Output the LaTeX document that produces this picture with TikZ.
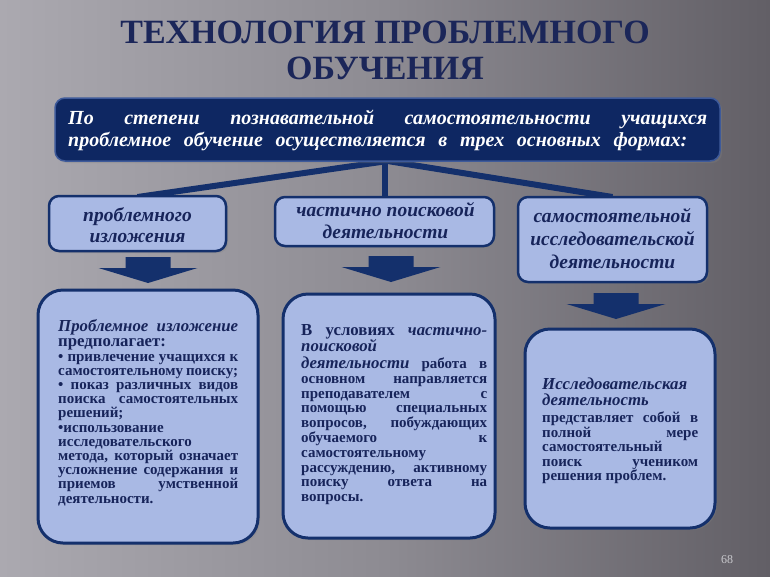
\documentclass[tikz,border=0pt]{standalone}
\usepackage{fontspec}
\setmainfont{Liberation Serif}
\usetikzlibrary{shadows}
\definecolor{titlecol}{HTML}{1B2659}
\definecolor{topfill}{HTML}{0E2762}
\definecolor{topline}{HTML}{3E5A9A}
\definecolor{boxfill}{HTML}{A9B9E4}
\definecolor{navy}{HTML}{14306C}
\definecolor{txt}{HTML}{17245A}
\definecolor{bgl}{HTML}{ABA9B0}
\definecolor{bgm}{HTML}{8D8B92}
\definecolor{bgr}{HTML}{625F66}
\definecolor{pagecol}{HTML}{C8C8CC}
\newcommand\jline[2]{\makebox[#1][s]{#2}}
\newcommand\fsbig{\fontsize{16.8}{16}\selectfont}
\begin{document}
\begin{tikzpicture}[x=1pt,y=-1pt,
  titlefont/.style={font=\fontsize{34}{40}\selectfont\bfseries, inner sep=0},
  topbox/.style={draw=topline, line width=1.5pt, fill=topfill, rounded corners=10pt, inner sep=0, drop shadow={shadow xshift=2pt, shadow yshift=-2pt, opacity=0.3}},
  smallbox/.style={draw=navy, line width=2.5pt, fill=boxfill, rounded corners=10pt, inner sep=0, drop shadow={shadow xshift=2pt, shadow yshift=-2pt, opacity=0.3}},
  bigbox/.style={draw=navy, line width=3pt, fill=boxfill, rounded corners=25pt, inner sep=0, drop shadow={shadow xshift=2pt, shadow yshift=-2pt, opacity=0.3}},
  smalltext/.style={anchor=base, inner sep=0, text=txt, font=\fontsize{19.5}{21}\selectfont\bfseries\itshape},
  bodytext/.style={anchor=base west, inner sep=0, text=txt, font=\fontsize{15}{15}\selectfont\bfseries},
  conn/.style={draw=navy, line width=6pt},
  downarrow/.pic={\fill[navy] (-22.5,0) -- (22.5,0) -- (22.5,11) -- (49.5,11) -- (0,26) -- (-49.5,11) -- (-22.5,11) -- cycle;}
]
\useasboundingbox (0,0) rectangle (770,576);
\shade[left color=bgl, right color=bgr, middle color=bgm] (0,0) rectangle (770,576);

% title
\node[titlefont, text=titlecol, anchor=base] (t1) at (385,43) {ТЕХНОЛОГИЯ ПРОБЛЕМНОГО};
\node[titlefont, text=titlecol, anchor=base] (t2) at (385,79) {ОБУЧЕНИЯ};

% connectors (drawn before boxes)
\coordinate (hub) at (387.5,161);
\coordinate (c1) at (137.5,197);
\coordinate (c2) at (385,197);
\coordinate (c3) at (612.5,197);
\draw[conn] (hub) -- (c1);
\draw[conn] (hub) -- (c3);
\draw[conn] (385,161) -- (c2);

% top box
\node[topbox, minimum width=665, minimum height=63] (top) at (387.5,129.5) {};
\node[anchor=base west, inner sep=0, text=white, font=\fontsize{20}{22}\selectfont\bfseries\itshape] (toptext) at (68,124)
  {\parbox[t]{639pt}{\lineskiplimit=-100pt\jline{639pt}{По степени познавательной самостоятельности учащихся}\\
   \jline{619pt}{проблемное обучение осуществляется в трех основных формах:}}};

% small boxes
\node[smallbox, minimum width=177, minimum height=55] (b1) at (137.5,223.5) {};
\node[smallbox, minimum width=219, minimum height=49] (b2) at (384.5,221.5) {};
\node[smallbox, minimum width=189, minimum height=85] (b3) at (612.5,239.5) {};
\node[smalltext] (b1t) at (137.5,221) {\parbox[t]{170pt}{\centering\lineskiplimit=-100pt проблемного\\изложения}};
\node[smalltext] (b2t) at (385.5,216) {\parbox[t]{210pt}{\centering\fontsize{19.5}{22}\selectfont\lineskiplimit=-100pt частично поисковой\\деятельности}};
\node[smalltext] (b3t) at (612.5,222) {\parbox[t]{185pt}{\centering\fontsize{19.5}{23}\selectfont\lineskiplimit=-100pt самостоятельной\\исследовательской\\деятельности}};

% block arrows
\pic at (148,257) {downarrow};
\pic at (391,256) {downarrow};
\pic at (616,293) {downarrow};

% big boxes
\node[bigbox, minimum width=220, minimum height=253] (b4) at (148,416.5) {};
\node[bigbox, minimum width=212, minimum height=244] (b5) at (389,416) {};
\node[bigbox, minimum width=190, minimum height=199] (b6) at (620,428.5) {};

\node[bodytext] (b4t) at (58,331) {\parbox[t]{180pt}{\fontsize{15}{14.2}\selectfont\lineskiplimit=-100pt
\jline{180pt}{\fsbig\itshape Проблемное изложение}\\[1.6pt]
{\fsbig предполагает:}\\
\jline{180pt}{• привлечение учащихся к}\\
\jline{180pt}{самостоятельному поиску;}\\
\jline{180pt}{• показ различных видов}\\
\jline{180pt}{поиска самостоятельных}\\
решений;\\
•использование\\
исследовательского\\
\jline{180pt}{метода, который означает}\\
\jline{180pt}{усложнение содержания и}\\
\jline{180pt}{приемов умственной}\\
деятельности.}};

\node[bodytext] (b5t) at (301,335) {\parbox[t]{186pt}{\fontsize{15}{14.8}\selectfont\lineskiplimit=-100pt
\jline{186pt}{{\fsbig В условиях {\itshape частично-}}}\\[1.7pt]
{\fsbig\itshape поисковой}\\[2.2pt]
\jline{186pt}{{\fsbig\itshape деятельности} работа в}\\
\jline{186pt}{основном направляется}\\
\jline{186pt}{преподавателем с}\\
\jline{186pt}{помощью специальных}\\
\jline{186pt}{вопросов, побуждающих}\\
\jline{186pt}{обучаемого к}\\
самостоятельному\\
\jline{186pt}{рассуждению, активному}\\
\jline{186pt}{поиску ответа на}\\
вопросы.}};

\node[bodytext] (b6t) at (542,389) {\parbox[t]{156pt}{\fontsize{15}{14.6}\selectfont\lineskiplimit=-100pt
{\fsbig\itshape Исследовательская}\\[1.8pt]
{\fsbig\itshape деятельность}\\[2.4pt]
\jline{156pt}{представляет собой в}\\
\jline{156pt}{полной мере}\\
самостоятельный\\
\jline{156pt}{поиск учеником}\\
решения проблем.}};

\node[anchor=base, inner sep=0, text=pagecol, font=\fontsize{12}{14}\selectfont] (pg) at (727,563) {68};
\end{tikzpicture}
\end{document}
